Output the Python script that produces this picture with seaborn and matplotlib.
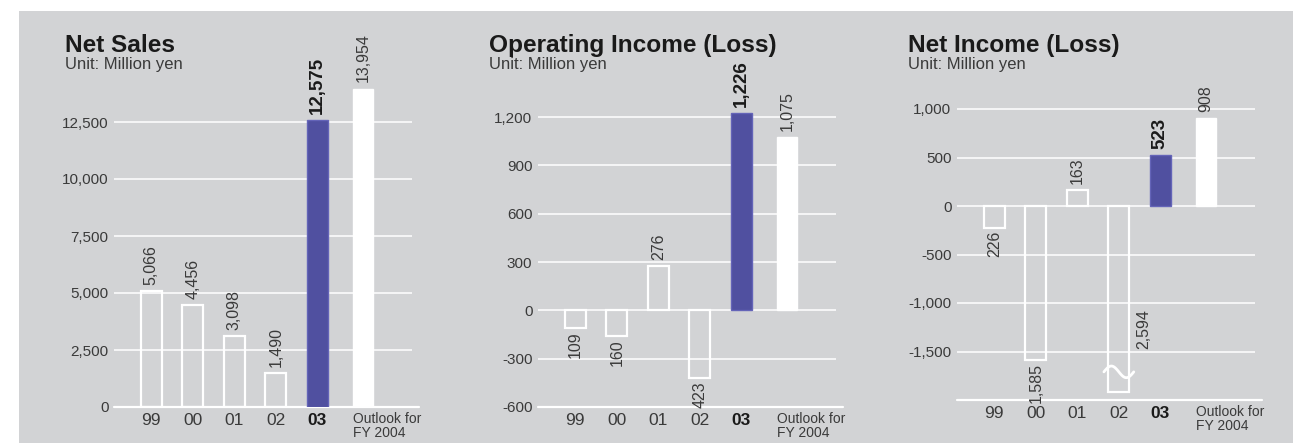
import numpy as np
import pandas as pd
import matplotlib
matplotlib.use("Agg")
import matplotlib.pyplot as plt
import seaborn as sns

# data
years = ['99', '00', '01', '02', '03', 'Outlook for\nFY 2004']
net_sales = [5066, 4456, 3098, 1490, 12575, 13954]
op_income = [-109, -160, 276, -423, 1226, 1075]
net_income = [-226, -1585, 163, -2594, 523, 908]

titles = ['Net Sales', 'Operating Income (Loss)', 'Net Income (Loss)']
unit_text = 'Unit: Million yen'
ticks_sales = [0, 2500, 5000, 7500, 10000, 12500]
ticks_op = [-600, -300, 0, 300, 600, 900, 1200]
ticks_net = [-1500, -1000, -500, 0, 500, 1000]

sns.set_theme(style="white")
plt.rcParams['font.family'] = ['Liberation Sans', 'DejaVu Sans']

BG = '#d2d3d5'
PURPLE = '#5050a0'
TXT = '#3a3a3a'
W, H = 1293, 443

fig = plt.figure(figsize=(W / 100, H / 100), dpi=100)
fig.patch.set_facecolor('white')

# gray backdrop behind everything
bg = fig.add_axes([19 / W, 0, 1 - 19 / W, 1 - 11 / H], zorder=-10)
bg.set_facecolor(BG)
bg.set_xticks([])
bg.set_yticks([])
for s in bg.spines.values():
    s.set_visible(False)


def px_axes(left, top, bottom):
    # axes box given in pixels from the top-left corner
    width = 305
    return fig.add_axes([left / W, 1 - bottom / H, width / W, (bottom - top) / H])


def draw_panel(ax, values, ticks, ylim, title, title_x, grid_right=6.28, floor=None):
    ax.set_facecolor('none')
    plot_vals = list(values)
    if floor is not None:
        plot_vals = [max(v, floor) for v in values]
    df = pd.DataFrame({'year': years, 'value': plot_vals})
    sns.barplot(data=df, x='year', y='value', ax=ax, width=0.5, color='white',
                saturation=1, zorder=3)
    for i, p in enumerate(ax.patches):
        if i < 4:
            p.set_facecolor('none')
            p.set_edgecolor('white')
            p.set_linewidth(1.6)
        elif i == 4:
            p.set_facecolor(PURPLE)
            p.set_edgecolor('#6464b8')
            p.set_linewidth(1.0)
        else:
            p.set_facecolor('white')
            p.set_edgecolor('white')
            p.set_x(p.get_x() + 0.1)

    ax.set_xlim(-0.9, 6.45)
    ax.set_ylim(*ylim)
    ax.hlines(ticks, -0.9, grid_right, color='white', lw=1.1, zorder=1)
    ax.axhline(ylim[0], color='white', lw=1.6, zorder=2, clip_on=False)
    for s in ax.spines.values():
        s.set_visible(False)
    ax.set_yticks(ticks)
    ax.set_yticklabels([f'{t:,}' for t in ticks], fontsize=11, color=TXT)
    ax.tick_params(axis='y', length=0, pad=4)
    ax.tick_params(axis='x', length=0, pad=4)
    ax.set_xticks(range(5))
    ax.set_xticklabels(years[:5], fontsize=12.5, color=TXT)
    ax.get_xticklabels()[4].set_fontweight('bold')
    ax.get_xticklabels()[4].set_color('#1a1a1a')
    span = ylim[1] - ylim[0]
    ax.text(4.85, ylim[0] - span * 0.014, years[5], fontsize=10, color=TXT,
            ha='left', va='top', linespacing=0.95, clip_on=False)
    ax.set_xlabel('')
    ax.set_ylabel('')

    # value labels
    for i, (v, pv) in enumerate(zip(values, plot_vals)):
        x = i + (0.1 if i == 5 else 0)
        bold = i == 4
        kw = dict(rotation=90, fontsize=13.5 if bold else 11.5,
                  fontweight='bold' if bold else 'normal',
                  color='#1a1a1a' if bold else TXT, ha='center', clip_on=False)
        if floor is not None and v < floor:
            ax.text(i + 0.6, pv * 0.66, f'{abs(v):,}', va='center', **kw)
        elif v >= 0:
            ax.text(x, pv + span * 0.017, f'{abs(v):,}', va='bottom', **kw)
        else:
            ax.text(x, pv - span * 0.008, f'{abs(v):,}', va='top', **kw)

    fig.text(title_x / W, 1 - 52 / H, title, fontsize=17.6, fontweight='bold', color='#1a1a1a')
    fig.text(title_x / W, 1 - 69 / H, unit_text, fontsize=12, color=TXT)


ax1 = px_axes(114, 30, 407)
draw_panel(ax1, net_sales, ticks_sales, (0, 377 * 12500 / 285), titles[0], 65)

ax2 = px_axes(538, 30, 407)
draw_panel(ax2, op_income, ticks_op, (-600, 280 * 1200 / 193), titles[1], 489)

ax3 = px_axes(957, 30, 400)
break_floor = -1920
draw_panel(ax3, net_income, ticks_net, (-2000, 176 * 1000 / 97), titles[2], 908,
           floor=break_floor)
# axis break mark on the 02 bar
wx = np.linspace(3 - 0.36, 3 + 0.36, 60)
wy = -1710 - 60 * np.sin((wx - 3) / 0.36 * np.pi)
ax3.plot(wx, wy, color='white', lw=2, zorder=5, solid_capstyle='round')

fig.savefig('out.png', dpi=100, facecolor=fig.get_facecolor())
